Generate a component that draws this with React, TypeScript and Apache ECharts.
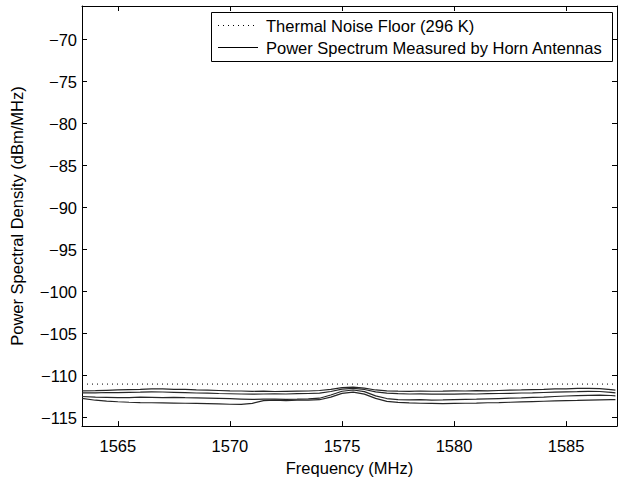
import React, { useEffect, useRef } from "react";
import * as echarts from "echarts";

// Frequency grid (MHz) shared by the four measured traces
const freqMHz: number[] = [
  1563.4, 1564.0, 1564.5, 1565.0, 1565.5, 1566.0, 1566.5, 1567.0, 1567.5, 1568.0,
  1568.5, 1569.0, 1569.5, 1570.0, 1570.5, 1571.0, 1571.5, 1572.0, 1572.5, 1573.0,
  1573.5, 1574.0, 1574.5, 1575.0, 1575.5, 1576.0, 1576.5, 1577.0, 1577.5, 1578.0,
  1578.5, 1579.0, 1579.5, 1580.0, 1580.5, 1581.0, 1581.5, 1582.0, 1582.5, 1583.0,
  1583.5, 1584.0, 1584.5, 1585.0, 1585.5, 1586.0, 1586.5, 1587.0, 1587.2,
];

// Measured power spectral density, dBm/MHz, one array per horn antenna
const hornA: number[] = [
  -111.80, -111.78, -111.74, -111.70, -111.66, -111.62, -111.56, -111.58, -111.63, -111.62,
  -111.68, -111.72, -111.76, -111.80, -111.82, -111.86, -111.84, -111.88, -111.86, -111.84,
  -111.82, -111.76, -111.62, -111.42, -111.35, -111.48, -111.70, -111.80, -111.84, -111.86,
  -111.82, -111.85, -111.83, -111.80, -111.82, -111.78, -111.80, -111.76, -111.72, -111.70,
  -111.66, -111.64, -111.58, -111.56, -111.52, -111.50, -111.55, -111.66, -111.72,
];
const hornB: number[] = [
  -112.05, -112.04, -112.00, -112.02, -111.98, -111.96, -111.92, -111.94, -111.98, -112.02,
  -112.06, -112.08, -112.12, -112.15, -112.18, -112.20, -112.18, -112.16, -112.18, -112.14,
  -112.12, -112.08, -111.88, -111.60, -111.50, -111.64, -111.92, -112.08, -112.14, -112.18,
  -112.16, -112.20, -112.18, -112.20, -112.16, -112.18, -112.14, -112.12, -112.10, -112.06,
  -112.04, -112.00, -111.96, -111.92, -111.90, -111.86, -111.88, -111.98, -112.04,
];
const hornC: number[] = [
  -112.48, -112.55, -112.58, -112.62, -112.60, -112.56, -112.58, -112.60, -112.58, -112.62,
  -112.64, -112.66, -112.70, -112.74, -112.78, -112.82, -112.80, -112.78, -112.82, -112.80,
  -112.76, -112.68, -112.30, -111.85, -111.70, -111.90, -112.40, -112.72, -112.84, -112.88,
  -112.86, -112.90, -112.88, -112.84, -112.82, -112.80, -112.76, -112.72, -112.68, -112.64,
  -112.58, -112.54, -112.48, -112.42, -112.38, -112.34, -112.32, -112.36, -112.40,
];
const hornD: number[] = [
  -112.70, -112.92, -113.02, -113.10, -113.16, -113.20, -113.22, -113.24, -113.26, -113.28,
  -113.30, -113.32, -113.36, -113.40, -113.42, -113.30, -112.96, -112.90, -112.96, -112.92,
  -112.90, -112.86, -112.55, -112.10, -111.95, -112.20, -112.70, -113.05, -113.18, -113.24,
  -113.28, -113.30, -113.32, -113.30, -113.28, -113.26, -113.22, -113.20, -113.16, -113.12,
  -113.08, -113.04, -113.00, -112.96, -112.94, -112.90, -112.88, -112.86, -112.86,
];

// Thermal noise floor at 296 K
const noiseFloorDbm = -111;

const xRange: [number, number] = [1563.4, 1587.27];
const yRange: [number, number] = [-116, -66];
const xTicks: number[] = [1565, 1570, 1575, 1580, 1585];
const yTicks: number[] = [-115, -110, -105, -100, -95, -90, -85, -80, -75, -70];

const noiseName = "Thermal Noise Floor (296 K)";
const measuredName = "Power Spectrum Measured by Horn Antennas";

const FONT = "Liberation Sans, Arial, Helvetica, sans-serif";
const FS = 16.5;

export default function App() {
  const ref = useRef<HTMLDivElement>(null);

  useEffect(() => {
    if (!ref.current) return;
    const chart = echarts.init(ref.current, undefined, { renderer: "svg" });

    const pairs = (ys: number[]) => freqMHz.map((f, i) => [f, ys[i]]);
    const measured = [hornA, hornB, hornC, hornD].map((ys) => ({
      type: "line" as const,
      name: measuredName,
      data: pairs(ys),
      showSymbol: false,
      symbol: "none",
      lineStyle: { color: "#262626", width: 1.2 },
      silent: true,
    }));

    const axisLine = { show: true, lineStyle: { color: "#000", width: 1 } };
    const tickStyle = { color: "#000", width: 1 };
    const labelFont = { fontFamily: FONT, fontSize: FS, color: "#000" };

    // Boxed legend in the upper right corner of the axes
    const legendBox = { x: 211.5, y: 12.5, w: 401, h: 49 };
    const row1 = 25.5;
    const row2 = 47.5;
    const sampleX1 = 218;
    const sampleX2 = 258;
    const textX = 266;

    chart.setOption({
      animation: false,
      backgroundColor: "#fff",
      grid: { left: 80, right: 1, top: 6, bottom: 49, containLabel: false },
      xAxis: [
        {
          type: "value",
          min: xRange[0],
          max: xRange[1],
          position: "bottom",
          name: "Frequency (MHz)",
          nameLocation: "middle",
          nameGap: 30,
          nameTextStyle: { fontFamily: FONT, fontSize: FS, color: "#000" },
          axisLine,
          axisTick: { show: true, inside: true, length: 5, lineStyle: tickStyle, customValues: xTicks },
          axisLabel: { ...labelFont, margin: 11, customValues: xTicks, formatter: (v: number) => String(v) },
          splitLine: { show: false },
        },
        {
          type: "value",
          min: xRange[0],
          max: xRange[1],
          position: "top",
          axisLine,
          axisTick: { show: true, inside: true, length: 5, lineStyle: tickStyle, customValues: xTicks },
          axisLabel: { show: false },
          splitLine: { show: false },
        },
      ],
      yAxis: [
        {
          type: "value",
          min: yRange[0],
          max: yRange[1],
          position: "left",
          name: "Power Spectral Density (dBm/MHz)",
          nameLocation: "middle",
          nameRotate: 90,
          nameGap: 57,
          nameTextStyle: { fontFamily: FONT, fontSize: FS, color: "#000" },
          axisLine,
          axisTick: { show: true, inside: true, length: 5, lineStyle: tickStyle, customValues: yTicks },
          axisLabel: {
            ...labelFont,
            margin: 5,
            customValues: yTicks,
            formatter: (v: number) => (v < 0 ? "\u2212" + Math.abs(v) : String(v)),
          },
          splitLine: { show: false },
        },
        {
          type: "value",
          min: yRange[0],
          max: yRange[1],
          position: "right",
          axisLine,
          axisTick: { show: true, inside: true, length: 5, lineStyle: tickStyle, customValues: yTicks },
          axisLabel: { show: false },
          splitLine: { show: false },
        },
      ],
      graphic: [
        {
          type: "rect",
          shape: { x: legendBox.x, y: legendBox.y, width: legendBox.w, height: legendBox.h },
          style: { fill: "#fff", stroke: "#000", lineWidth: 1 },
          z: 100,
        },
        {
          type: "line",
          shape: { x1: sampleX1, y1: row1, x2: sampleX2, y2: row1 },
          style: { stroke: "#000", lineWidth: 1, lineDash: [1, 4] },
          z: 101,
        },
        {
          type: "text",
          x: textX,
          y: row1,
          style: { text: noiseName, fontFamily: FONT, fontSize: FS, fill: "#000", verticalAlign: "middle" },
          z: 101,
        },
        {
          type: "line",
          shape: { x1: sampleX1, y1: row2, x2: sampleX2, y2: row2 },
          style: { stroke: "#000", lineWidth: 1 },
          z: 101,
        },
        {
          type: "text",
          x: textX,
          y: row2,
          style: { text: measuredName, fontFamily: FONT, fontSize: FS, fill: "#000", verticalAlign: "middle" },
          z: 101,
        },
      ],
      series: [
        {
          type: "line",
          name: noiseName,
          data: [
            [xRange[0], noiseFloorDbm],
            [xRange[1], noiseFloorDbm],
          ],
          showSymbol: false,
          symbol: "none",
          lineStyle: { color: "#000", width: 1, type: [1, 4] },
          silent: true,
        },
        ...measured,
      ],
    });

    return () => chart.dispose();
  }, []);

  return (
    <div
      ref={ref}
      style={{ position: "fixed", left: 0, top: 0, width: 618, height: 481, background: "#fff" }}
    />
  );
}
